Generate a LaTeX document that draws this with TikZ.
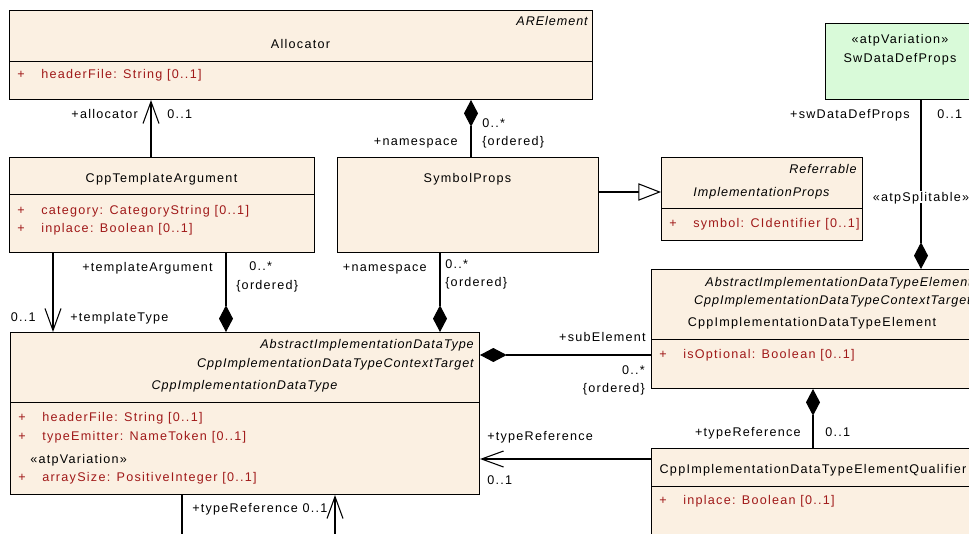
\documentclass[tikz,border=0pt]{standalone}
\usepackage{fontspec}
\setmainfont{Liberation Sans}[LetterSpace=10]
\newfontfamily\itfam{Liberation Sans}[LetterSpace=7.5]
\usetikzlibrary{arrows.meta}
\definecolor{cream}{RGB}{251,240,226}
\definecolor{mint}{RGB}{217,250,217}
\definecolor{attr}{RGB}{160,25,25}
\newcommand\dfont{\fontsize{9.45pt}{11pt}\selectfont}
\begin{document}
\begin{tikzpicture}[x=0.75pt,y=-0.75pt,font=\dfont,
  cls/.style={draw, fill=cream, line width=0.75pt, inner sep=0, anchor=north west},
  sepline/.style={line width=0.75pt},
  lbl/.style={inner sep=0, text height=6.8pt, text depth=0pt},
  ital/.style={lbl, font=\itfam\dfont\itshape},
  attrtxt/.style={lbl, text=attr},
  con/.style={line width=0.8pt},
  opena/.style={con, -{Straight Barb[length=16.5pt,width=12pt]}},
  comp/.style={con, {Diamond[length=20pt,width=10.5pt]}-},
  gen/.style={con, -{Triangle[open,length=17pt,width=13pt,fill=white]}}]
\useasboundingbox (0,0) rectangle (969,534);
\clip (0,0) rectangle (969,534);

% ---------- classes ----------
\node[cls, minimum width={583*0.75pt}, minimum height={89*0.75pt}] (alloc) at (9,10) {};
\draw[sepline] (alloc.west |- 0,62) -- (alloc.east |- 0,62);
\node[ital, anchor=east] (allocst) at (588,21) {ARElement};
\node[lbl] (allocnm) at (300.5,44) {Allocator};
\node[attrtxt, anchor=west] (allocp1) at (17,74) {+};
\node[attrtxt, anchor=west] (alloca1) at (41,74) {headerFile: String [0..1]};

\node[cls, minimum width={305*0.75pt}, minimum height={95*0.75pt}] (cta) at (9,157) {};
\draw[sepline] (cta.west |- 0,195) -- (cta.east |- 0,195);
\node[lbl] (ctanm) at (161.5,178) {CppTemplateArgument};
\node[attrtxt, anchor=west] (ctap1) at (17,210) {+};
\node[attrtxt, anchor=west] (ctaa1) at (41,210) {category: CategoryString [0..1]};
\node[attrtxt, anchor=west] (ctap2) at (17,228) {+};
\node[attrtxt, anchor=west] (ctaa2) at (41,228) {inplace: Boolean [0..1]};

\node[cls, minimum width={261*0.75pt}, minimum height={95*0.75pt}] (symb) at (337,157) {};
\node[lbl] (symbnm) at (467.5,178) {SymbolProps};

\node[cls, minimum width={201*0.75pt}, minimum height={83*0.75pt}] (impl) at (661,157) {};
\draw[sepline] (impl.west |- 0,209) -- (impl.east |- 0,209);
\node[ital, anchor=east] (implst) at (857,169) {Referrable};
\node[ital] (implnm) at (761.5,192) {ImplementationProps};
\node[attrtxt, anchor=west] (implp1) at (669,223) {+};
\node[attrtxt, anchor=west] (impla1) at (693,223) {symbol: CIdentifier [0..1]};

\node[cls, fill=mint, minimum width={150*0.75pt}, minimum height={76*0.75pt}] (swd) at (825,23) {};
\node[lbl] (swdst) at (900,39) {«atpVariation»};
\node[lbl] (swdnm) at (900,58) {SwDataDefProps};

\node[cls, minimum width={469*0.75pt}, minimum height={162*0.75pt}] (cidt) at (10,332) {};
\draw[sepline] (cidt.west |- 0,402) -- (cidt.east |- 0,402);
\node[ital, anchor=east] (cidtst1) at (474,344) {AbstractImplementationDataType};
\node[ital, anchor=east] (cidtst2) at (474,363) {CppImplementationDataTypeContextTarget};
\node[ital] (cidtnm) at (244.5,385) {CppImplementationDataType};
\node[attrtxt, anchor=west] (cidtp1) at (18,417) {+};
\node[attrtxt, anchor=west] (cidta1) at (42,417) {headerFile: String [0..1]};
\node[attrtxt, anchor=west] (cidtp2) at (18,436) {+};
\node[attrtxt, anchor=west] (cidta2) at (42,436) {typeEmitter: NameToken [0..1]};
\node[lbl, anchor=west] (cidtvar) at (30,459) {«atpVariation»};
\node[attrtxt, anchor=west] (cidtp3) at (18,477) {+};
\node[attrtxt, anchor=west] (cidta3) at (42,477) {arraySize: PositiveInteger [0..1]};

\node[cls, minimum width={325*0.75pt}, minimum height={119*0.75pt}] (elem) at (651,269) {};
\draw[sepline] (elem.west |- 0,339) -- (elem.east |- 0,339);
\node[ital, anchor=east] (elemst1) at (972,282) {AbstractImplementationDataTypeElement};
\node[ital, anchor=east] (elemst2) at (971,300) {CppImplementationDataTypeContextTarget};
\node[lbl] (elemnm) at (812,322) {CppImplementationDataTypeElement};
\node[attrtxt, anchor=west] (elemp1) at (659,354) {+};
\node[attrtxt, anchor=west] (elema1) at (683,354) {isOptional: Boolean [0..1]};

\node[cls, minimum width={325*0.75pt}, minimum height={100*0.75pt}] (qual) at (651,448) {};
\draw[sepline] (qual.west |- 0,486) -- (qual.east |- 0,486);
\node[lbl] (qualnm) at (813,469) {CppImplementationDataTypeElementQualifier};
\node[attrtxt, anchor=west] (qualp1) at (659,500) {+};
\node[attrtxt, anchor=west] (quala1) at (683,500) {inplace: Boolean [0..1]};

% ---------- connectors ----------
\draw[opena] (cta.north -| 151,0) -- (alloc.south -| 151,0);
\node[lbl, anchor=east] (l1) at (138,114) {+allocator};
\node[lbl, anchor=west] (l2) at (167,114) {0..1};

\draw[comp] (alloc.south -| 471,0) -- (symb.north -| 471,0);
\node[lbl, anchor=east] (l3) at (458,141) {+namespace};
\node[lbl, anchor=west] (l4) at (482,123) {0..*};
\node[lbl, anchor=west] (l5) at (482,141) {\{ordered\}};

\draw[gen] (symb.east |- 0,192) -- (impl.west |- 0,192);

\draw[opena] (cta.south -| 53,0) -- (cidt.north -| 53,0);
\node[lbl, anchor=east] (l6) at (36,317) {0..1};
\node[lbl, anchor=west] (l7) at (70,317) {+templateType};

\draw[comp] (cidt.north -| 226,0) -- (cta.south -| 226,0);
\node[lbl, anchor=east] (l8) at (213,267) {+templateArgument};
\node[lbl, anchor=west] (l9) at (249,266) {0..*};
\node[lbl, anchor=west] (l10) at (236,285) {\{ordered\}};

\draw[comp] (cidt.north -| 440,0) -- (symb.south -| 440,0);
\node[lbl, anchor=east] (l11) at (427,267) {+namespace};
\node[lbl, anchor=west] (l12) at (445,264) {0..*};
\node[lbl, anchor=west] (l13) at (445,282) {\{ordered\}};

\draw[comp] (cidt.east |- 0,355) -- (elem.west |- 0,355);
\node[lbl, anchor=east] (l14) at (646,337) {+subElement};
\node[lbl, anchor=east] (l15) at (645,370) {0..*};
\node[lbl, anchor=east] (l16) at (645,388) {\{ordered\}};

\draw[comp] (elem.south -| 813,0) -- (qual.north -| 813,0);
\node[lbl, anchor=east] (l17) at (801,432) {+typeReference};
\node[lbl, anchor=west] (l18) at (825,432) {0..1};

\draw[opena] (qual.west |- 0,459) -- (cidt.east |- 0,459);
\node[lbl, anchor=west] (l19) at (487,436) {+typeReference};
\node[lbl, anchor=west] (l20) at (487,480) {0..1};

\draw[comp] (elem.north -| 921,0) -- (swd.south -| 921,0);
\node[lbl, anchor=east] (l21) at (910,114) {+swDataDefProps};
\node[lbl, anchor=west] (l22) at (937,114) {0..1};
\node[lbl, fill=white, inner sep=1pt] (l23) at (921,197) {«atpSplitable»};

\coordinate (bl) at (182,545);
\coordinate (br) at (335,545);
\draw[con] (cidt.south -| bl) -- (bl);
\draw[opena] (br) -- (cidt.south -| br);
\node[lbl, anchor=west] (l24) at (192,508) {+typeReference 0..1};
\end{tikzpicture}
\end{document}
